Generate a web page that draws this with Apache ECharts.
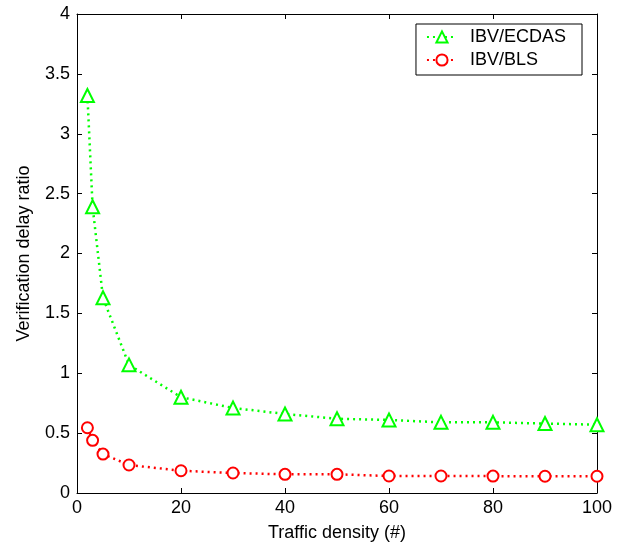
<!DOCTYPE html>
<html><head><meta charset="utf-8">
<script src="https://cdn.jsdelivr.net/npm/echarts@6/dist/echarts.min.js"></script>
<style>html,body{margin:0;padding:0;background:#fff}#c{width:618px;height:544px}</style>
</head><body><div id="c"></div>
<script>
const xValues = [2, 3, 5, 10, 20, 30, 40, 50, 60, 70, 80, 90, 100];
const ecdas = [3.32, 2.39, 1.63, 1.07, 0.80, 0.71, 0.66, 0.62, 0.61, 0.59, 0.59, 0.58, 0.57];
const bls = [0.545, 0.44, 0.325, 0.234, 0.186, 0.167, 0.156, 0.156, 0.142, 0.142, 0.141, 0.14, 0.14];
const seriesNames = ['IBV/ECDAS', 'IBV/BLS'];
const xTitle = 'Traffic density (#)';
const yTitle = 'Verification delay ratio';

const font = 'Liberation Sans, Arial, sans-serif';
const fs = 18;
const chart = echarts.init(document.getElementById('c'), null, {renderer: 'canvas'});
const tickStyle = {show: true, inside: true, length: 5, lineStyle: {color: '#000', width: 1}};
const lineAx = {show: true, onZero: false, lineStyle: {color: '#000', width: 1}};
chart.setOption({
  animation: false,
  backgroundColor: '#fff',
  grid: {left: 77, right: 21, top: 14, bottom: 51, containLabel: false, outerBoundsMode: 'none'},
  legend: {
    right: 36, top: 24, orient: 'vertical',
    data: seriesNames,
    backgroundColor: '#fff', borderColor: '#000', borderWidth: 1,
    padding: [4, 16, 6, 10], itemGap: 5, itemWidth: 30, itemHeight: 14,
    textStyle: {fontFamily: font, fontSize: fs, color: '#000', padding: [0, 0, 0, 8]}
  },
  xAxis: [
    {type: 'value', min: 0, max: 100, interval: 20, position: 'bottom',
     axisLine: lineAx, axisTick: tickStyle, splitLine: {show: false},
     axisLabel: {color: '#000', fontFamily: font, fontSize: fs, margin: 6},
     name: xTitle, nameLocation: 'middle', nameGap: 31,
     nameTextStyle: {color: '#000', fontFamily: font, fontSize: fs}},
    {type: 'value', min: 0, max: 100, interval: 20, position: 'top',
     axisLine: lineAx, axisTick: tickStyle, axisLabel: {show: false}, splitLine: {show: false}}
  ],
  yAxis: [
    {type: 'value', min: 0, max: 4, interval: 0.5, position: 'left',
     axisLine: lineAx, axisTick: tickStyle, splitLine: {show: false},
     axisLabel: {color: '#000', fontFamily: font, fontSize: fs, margin: 7},
     name: yTitle, nameLocation: 'middle', nameGap: 44, nameRotate: 90,
     nameTextStyle: {color: '#000', fontFamily: font, fontSize: fs}},
    {type: 'value', min: 0, max: 4, interval: 0.5, position: 'right',
     axisLine: lineAx, axisTick: tickStyle, axisLabel: {show: false}, splitLine: {show: false}}
  ],
  series: [
    {name: seriesNames[0], type: 'line', data: xValues.map((x, i) => [x, ecdas[i]]),
     symbol: 'emptyTriangle', symbolSize: 13,
     lineStyle: {color: '#00ff00', width: 2.5, type: [2, 4]},
     itemStyle: {color: '#00ff00', borderColor: '#00ff00', borderWidth: 2}},
    {name: seriesNames[1], type: 'line', data: xValues.map((x, i) => [x, bls[i]]),
     symbol: 'emptyCircle', symbolSize: 11,
     lineStyle: {color: '#ff0000', width: 2.5, type: [2, 4]},
     itemStyle: {color: '#ff0000', borderColor: '#ff0000', borderWidth: 2}}
  ]
});
</script></body></html>
